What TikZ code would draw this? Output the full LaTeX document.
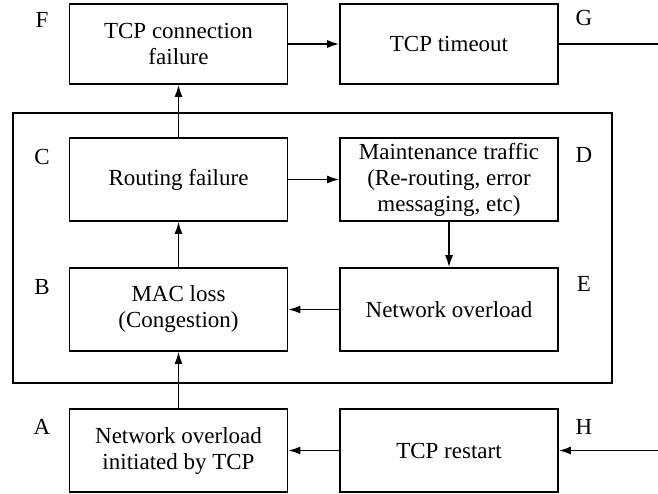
\documentclass[tikz,border=0pt]{standalone}
\usepackage{fontspec}
\setmainfont{Liberation Serif}
\usetikzlibrary{arrows.meta}
\begin{document}
\begin{tikzpicture}[x=1pt,y=-1pt,
  box/.style={draw, line width=1.6pt, minimum width=218pt, inner sep=0pt,
    align=center, font=\fontsize{23}{26}\selectfont},
  lbl/.style={font=\fontsize{23}{26}\selectfont, inner sep=0pt},
  link/.style={line width=1.6pt, -{Latex[length=12pt,width=8pt]}},
  plain/.style={line width=1.6pt}]
\useasboundingbox (0,0) rectangle (658,494);
% outer frame around the network-layer events
\draw[plain] (13,113) rectangle (612,383);
% event boxes
\node[box, minimum height=80pt] (F) at (178.5,44) {TCP connection\\failure};
\node[box, minimum height=80pt] (G) at (449,44) {TCP timeout};
\node[box, minimum height=83pt] (C) at (178.5,179.5) {Routing failure};
\node[box, minimum height=83pt] (D) at (449,179.5) {Maintenance traffic\\(Re-routing, error\\messaging, etc)};
\node[box, minimum height=83pt] (B) at (178.5,309.5) {MAC loss\\(Congestion)};
\node[box, minimum height=83pt] (E) at (449,309.5) {Network overload};
\node[box, minimum height=83pt] (A) at (178.5,450.5) {Network overload\\initiated by TCP};
\node[box, minimum height=83pt] (H) at (449,450.5) {TCP restart};
% letter labels
\node[lbl] (lF) at (42,20) {F};
\node[lbl] (lG) at (584,18) {G};
\node[lbl] (lC) at (42,157) {C};
\node[lbl] (lD) at (584,155) {D};
\node[lbl] (lB) at (42,287) {B};
\node[lbl] (lE) at (584,284) {E};
\node[lbl] (lA) at (42,427) {A};
\node[lbl] (lH) at (584,427) {H};
% loose ends leaving the picture
\coordinate (Gout) at (658,44);
\coordinate (Hin) at (658,450.5);
% connectors
\draw[link] (A) -- (B);
\draw[link] (B) -- (C);
\draw[link] (C) -- (F);
\draw[link] (F) -- (G);
\draw[link] (C) -- (D);
\draw[link] (D) -- (E);
\draw[link] (E) -- (B);
\draw[link] (H) -- (A);
\draw[plain] (G) -- (Gout);
\draw[link] (Hin) -- (H);
\end{tikzpicture}
\end{document}
